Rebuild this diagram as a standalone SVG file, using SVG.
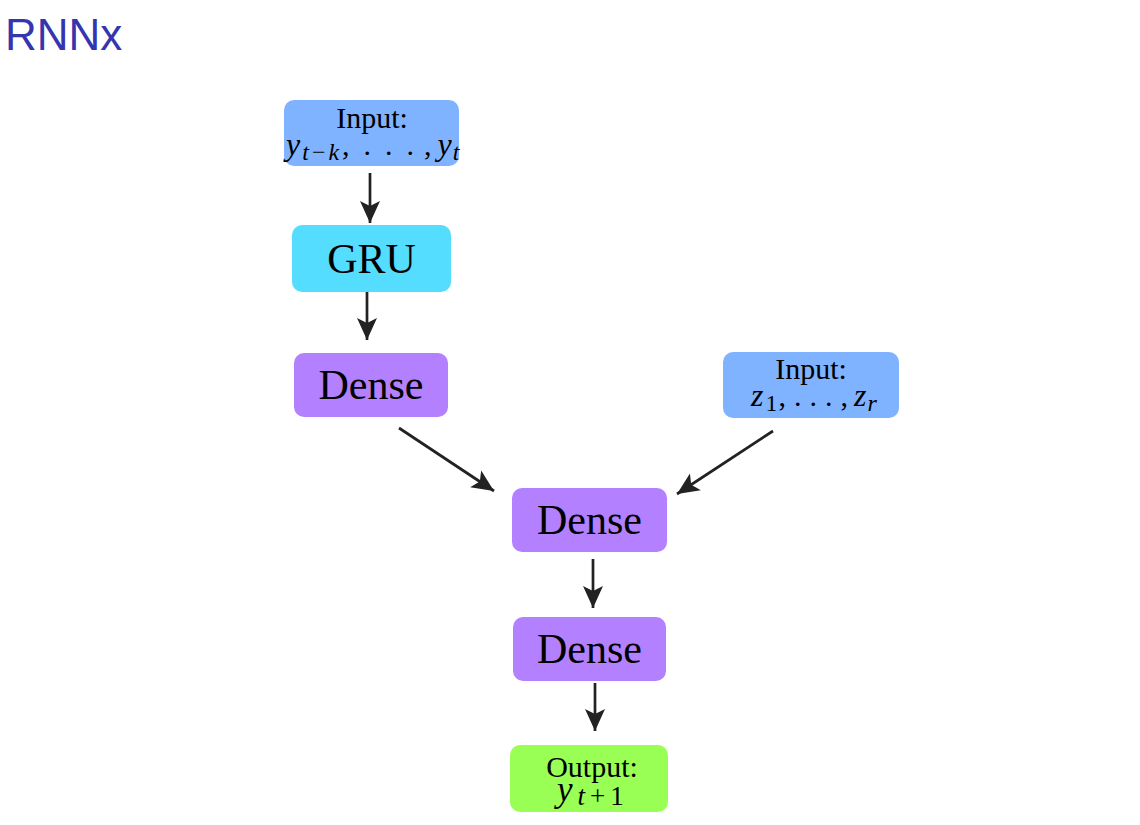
<svg xmlns="http://www.w3.org/2000/svg" width="1140" height="825" viewBox="0 0 1140 825">
<style>
.t{font-family:"Liberation Serif","Times New Roman",serif;fill:#000;text-anchor:middle}
.m{font-family:"Liberation Serif","Times New Roman",serif;fill:#000;font-size:30px}
.i{font-style:italic}
.s{font-size:24px}
.big{font-size:42px}
.med{font-size:30px}
.edge{stroke:#222;stroke-width:2.7;fill:none;marker-end:url(#ah)}
</style>
<defs>
<marker id="ah" viewBox="-1 -11 24 22" refX="22" refY="0" markerWidth="24" markerHeight="22" markerUnits="userSpaceOnUse" orient="auto">
<path d="M0,-10 L22,0 L0,10 L5,0 z" fill="#222"/>
</marker>
</defs>
<rect width="1140" height="825" fill="#fff"/>
<text x="5" y="50" font-family="Liberation Sans, Arial, sans-serif" font-size="44" fill="#3535b0">RNNx</text>

<g id="connectors">
<line class="edge" x1="370" y1="173" x2="370" y2="223"/>
<line class="edge" x1="367" y1="292" x2="367" y2="340"/>
<line class="edge" x1="399" y1="428" x2="494" y2="491"/>
<line class="edge" x1="773" y1="431" x2="677" y2="494"/>
<line class="edge" x1="593" y1="559" x2="593" y2="608"/>
<line class="edge" x1="595" y1="683" x2="595" y2="731"/>
</g>

<g id="input1">
<rect x="284" y="100" width="175" height="66" rx="10" fill="#80b3ff"/>
<text class="t med" x="372" y="128">Input:</text>
<text class="m" x="286" y="155"><tspan class="i" font-size="32">y</tspan><tspan class="s i" dx="2" dy="5">t</tspan><tspan class="s" dx="3">−</tspan><tspan class="s i" dx="3">k</tspan><tspan dx="3" dy="-5">,</tspan><tspan dx="14">.</tspan><tspan dx="14">.</tspan><tspan dx="14">.</tspan><tspan dx="10">,</tspan><tspan class="i" dx="6" font-size="32">y</tspan><tspan class="s i" dx="1" dy="5">t</tspan></text>
</g>

<g id="gru">
<rect x="292" y="225" width="159" height="67" rx="10" fill="#55ddff"/>
<text class="t big" x="371.5" y="273">GRU</text>
</g>

<g id="dense1">
<rect x="294" y="353" width="154" height="64" rx="10" fill="#b380ff"/>
<text class="t big" x="371" y="399">Dense</text>
</g>

<g id="input2">
<rect x="723" y="352" width="176" height="66" rx="10" fill="#80b3ff"/>
<text class="t med" x="811" y="379">Input:</text>
<text class="m" x="751" y="406"><tspan class="i" font-size="32">z</tspan><tspan class="s" dx="2" dy="5">1</tspan><tspan dx="1" dy="-5">,</tspan><tspan dx="8">.</tspan><tspan dx="8">.</tspan><tspan dx="8">.</tspan><tspan dx="8">,</tspan><tspan class="i" dx="6" font-size="32">z</tspan><tspan class="s i" dx="1" dy="5">r</tspan></text>
</g>

<g id="dense2">
<rect x="512" y="488" width="155" height="64" rx="10" fill="#b380ff"/>
<text class="t big" x="589.5" y="534">Dense</text>
</g>

<g id="dense3">
<rect x="513" y="617" width="153" height="64" rx="10" fill="#b380ff"/>
<text class="t big" x="589.5" y="663">Dense</text>
</g>

<g id="output">
<rect x="510" y="745" width="158" height="67" rx="10" fill="#99ff55"/>
<text class="t" x="592" y="777" font-size="30">Output:</text>
<text class="m" x="557" y="801"><tspan class="i" font-size="35">y</tspan><tspan class="i" dx="5" dy="4" font-size="27">t</tspan><tspan dx="5" font-size="27">+</tspan><tspan dx="5" font-size="27">1</tspan></text>
</g>
</svg>
